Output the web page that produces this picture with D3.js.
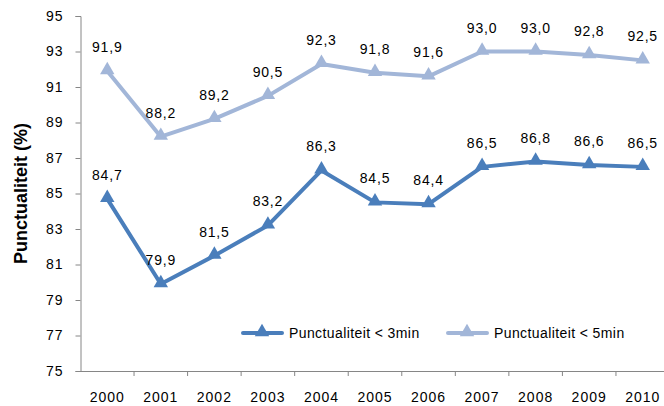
<!DOCTYPE html>
<html>
<head>
<meta charset="utf-8">
<script src="https://cdn.jsdelivr.net/npm/d3@7"></script>
<style>
  body { margin: 0; background: #fff; }
  text { font-family: "Liberation Sans", Arial, sans-serif; fill: #000; }
</style>
</head>
<body>
<div id="chart"></div>
<script>
const years = ["2000", "2001", "2002", "2003", "2004", "2005", "2006", "2007", "2008", "2009", "2010"];
const punct3 = [84.7, 79.9, 81.5, 83.2, 86.3, 84.5, 84.4, 86.5, 86.8, 86.6, 86.5];
const punct5 = [91.9, 88.2, 89.2, 90.5, 92.3, 91.8, 91.6, 93.0, 93.0, 92.8, 92.5];
const yTicks = [75, 77, 79, 81, 83, 85, 87, 89, 91, 93, 95];
const seriesNames = ["Punctualiteit < 3min", "Punctualiteit < 5min"];

const width = 664;
const height = 406;
// plot runs slightly past the right edge, as in the original export
const margin = { top: 16, right: -5.5, bottom: 35, left: 80.5 };
const colorPalette = { dark: "#4A7EBB", light: "#A2B6D8", axis: "#868686" };

const svg = d3.select("#chart").append("svg")
  .attr("width", width)
  .attr("height", height);

const x = d3.scaleBand()
  .domain(years)
  .range([margin.left, width - margin.right]);

const y = d3.scaleLinear()
  .domain([75, 95])
  .range([height - margin.bottom, margin.top]);

const fmt = (v) => v.toFixed(1).replace(".", ",");

// y axis
const yAxis = svg.append("g")
  .attr("transform", `translate(${margin.left},0)`)
  .call(d3.axisLeft(y).tickValues(yTicks).tickSize(5).tickPadding(12));
yAxis.select(".domain").attr("stroke", colorPalette.axis);
yAxis.selectAll(".tick line").attr("stroke", colorPalette.axis);
yAxis.selectAll(".tick text")
  .style("font-size", "14px")
  .style("letter-spacing", "1px")
  .attr("fill", "#000");

// x axis
const xAxis = svg.append("g")
  .attr("transform", `translate(0,${height - margin.bottom})`)
  .call(d3.axisBottom(x).tickSize(0).tickPadding(21).tickSizeOuter(0));
xAxis.select(".domain").attr("stroke", colorPalette.axis);
xAxis.selectAll(".tick text")
  .style("font-size", "14px")
  .style("letter-spacing", "1px")
  .attr("fill", "#000");

// x ticks between categories
svg.append("g")
  .selectAll("line")
  .data(years)
  .enter()
  .append("line")
  .attr("x1", (d) => x(d) + x.bandwidth())
  .attr("x2", (d) => x(d) + x.bandwidth())
  .attr("y1", height - margin.bottom)
  .attr("y2", height - margin.bottom + 5)
  .attr("stroke", colorPalette.axis);

// y title
svg.append("text")
  .attr("transform", `translate(27,${(margin.top + height - margin.bottom) / 2}) rotate(-90)`)
  .attr("text-anchor", "middle")
  .style("font-size", "18px")
  .style("font-weight", "bold")
  .text("Punctualiteit (%)");

const line = d3.line()
  .x((d, i) => x(years[i]) + x.bandwidth() / 2)
  .y((d) => y(d));

const tri = d3.symbol().type(d3.symbolTriangle).size(90);

const drawSeries = (data, color) => {
  svg.append("path")
    .datum(data)
    .attr("d", line)
    .attr("fill", "none")
    .attr("stroke", color)
    .attr("stroke-width", 4)
    .attr("stroke-linejoin", "round");

  svg.append("g")
    .selectAll("path")
    .data(data)
    .enter()
    .append("path")
    .attr("d", tri)
    .attr("transform", (d, i) => `translate(${x(years[i]) + x.bandwidth() / 2},${y(d) - 1})`)
    .attr("fill", color);

  svg.append("g")
    .selectAll("text")
    .data(data)
    .enter()
    .append("text")
    .attr("x", (d, i) => x(years[i]) + x.bandwidth() / 2)
    .attr("y", (d) => y(d) - 19)
    .attr("text-anchor", "middle")
    .style("font-size", "14px")
    .style("letter-spacing", "0.8px")
    .text((d) => fmt(d));
};

drawSeries(punct5, colorPalette.light);
drawSeries(punct3, colorPalette.dark);

// legend
const legend = svg.append("g").attr("transform", "translate(242,333)");
const legendItems = [
  { name: seriesNames[0], color: colorPalette.dark, dx: 0 },
  { name: seriesNames[1], color: colorPalette.light, dx: 205 },
];
legendItems.forEach((item) => {
  const g = legend.append("g").attr("transform", `translate(${item.dx},0)`);
  g.append("line")
    .attr("x1", 1).attr("x2", 40)
    .attr("y1", 0).attr("y2", 0)
    .attr("stroke", item.color)
    .attr("stroke-width", 4)
    .attr("stroke-linecap", "round");
  g.append("path")
    .attr("d", tri)
    .attr("transform", "translate(20,-1)")
    .attr("fill", item.color);
  g.append("text")
    .attr("x", 47)
    .attr("y", 5)
    .style("font-size", "14px")
    .style("letter-spacing", "0.4px")
    .text(item.name);
});
</script>
</body>
</html>
